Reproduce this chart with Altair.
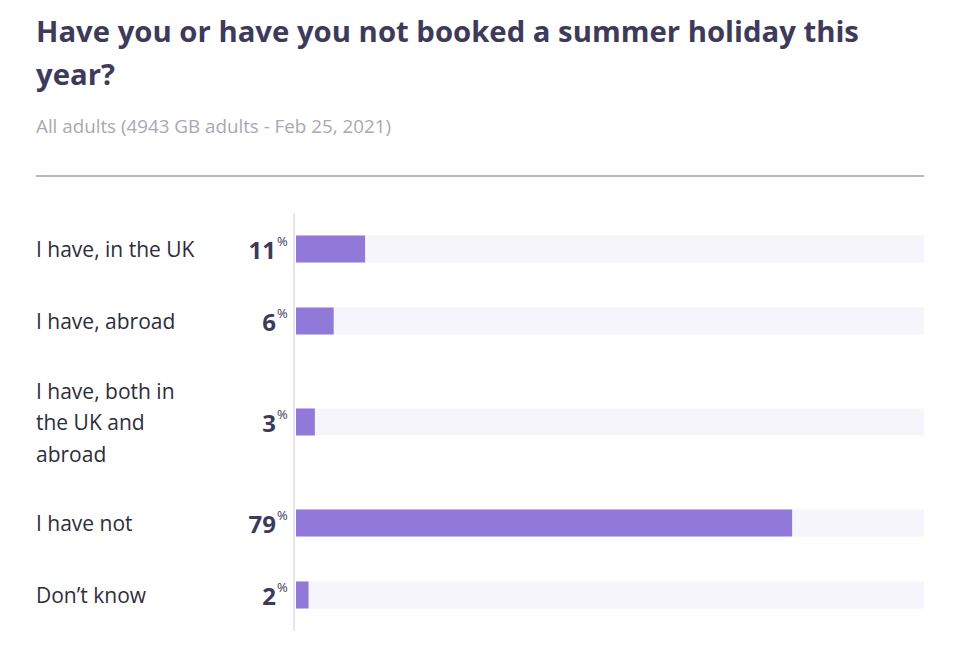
import altair as alt
import pandas as pd

categories = ["I have, in the UK", "I have, abroad", "I have, both in\nthe UK and\nabroad", "I have not", "Don’t know"]
values = [11, 6, 3, 79, 2]

TITLE = ["Have you or have you not booked a summer holiday this", "year?"]
SUBTITLE = "All adults (4943 GB adults - Feb 25, 2021)"

# layout: row height grows with number of label lines
BASE_ROW = 72
LINE_H = 31.5
EXTRA_LINE = 29
rows = []
top = 0
for i, (c, v) in enumerate(zip(categories, values)):
    n = c.count("\n") + 1
    h = BASE_ROW + (n - 1) * EXTRA_LINE
    center = top + h / 2
    rows.append({"cat": c, "value": v, "center": center,
                 "label_y": center - (n - 1) * LINE_H / 2 + 2,
                 "label": str(v), "full": 100})
    top += h
TOTAL = top
df = pd.DataFrame(rows)

W = 628
H = TOTAL

dark = "#3d3a5a"
purple = "#9079d9"
track = "#f6f5fb"

ys = alt.Scale(domain=[0, TOTAL], reverse=True)
y = alt.Y("center:Q", scale=ys, axis=None)
xs = alt.Scale(domain=[0, 100], nice=False, zero=True)

base = alt.Chart(df)

bg = base.mark_rule(strokeWidth=27, color=track, strokeCap="butt").encode(
    x=alt.X("zero:Q", scale=xs, axis=None), x2="full:Q", y=y
).transform_calculate(zero="0")

bars = base.mark_rule(strokeWidth=27, color=purple, strokeCap="butt").encode(
    x=alt.X("zero:Q", scale=xs, axis=None), x2="value:Q", y=y
).transform_calculate(zero="0")

vline = base.mark_rule(color="#e6e4ef", strokeWidth=2).encode(
    x=alt.value(-2), y=alt.value(0), y2=alt.value(H)
)

hrule = base.mark_rule(color="#b9b7c6", strokeWidth=1.5).encode(
    x=alt.value(-260), x2=alt.value(W), y=alt.value(-37)
)

cat_text = base.mark_text(align="left", baseline="middle", fontSize=21, font="Open Sans",
                          color="#2e2d3a", lineHeight=LINE_H, lineBreak="\n").encode(
    x=alt.value(-260), y=alt.Y("label_y:Q", scale=ys, axis=None), text="cat:N"
)

num_text = base.mark_text(align="right", baseline="middle", fontSize=24, font="Open Sans",
                          fontWeight="bold", color=dark, dy=3).encode(
    x=alt.value(-20), y=y, text="label:N"
)

pct_text = base.mark_text(align="left", baseline="middle", fontSize=13, font="Open Sans",
                          color=dark, dy=-7).encode(
    x=alt.value(-19), y=y, text=alt.value("%")
)

chart = alt.layer(bg, bars, vline, hrule, cat_text, num_text, pct_text).properties(
    width=W, height=H,
    background="white",
    autosize=alt.AutoSizeParams(type="none"),
    padding={"left": 288, "top": 205, "right": 28, "bottom": 17},
    title=alt.TitleParams(
        text=TITLE, subtitle=SUBTITLE, anchor="start", frame="group", dx=-260,
        font="Open Sans", fontSize=29.3, fontWeight="bold", color=dark, lineHeight=43,
        subtitleFont="Open Sans", subtitleFontSize=18.8, subtitleColor="#a9a7b8",
        subtitlePadding=27, offset=38
    )
).configure_view(strokeWidth=0, stroke="transparent")

chart.save("out.html", embed_options={"renderer": "svg", "actions": False})
